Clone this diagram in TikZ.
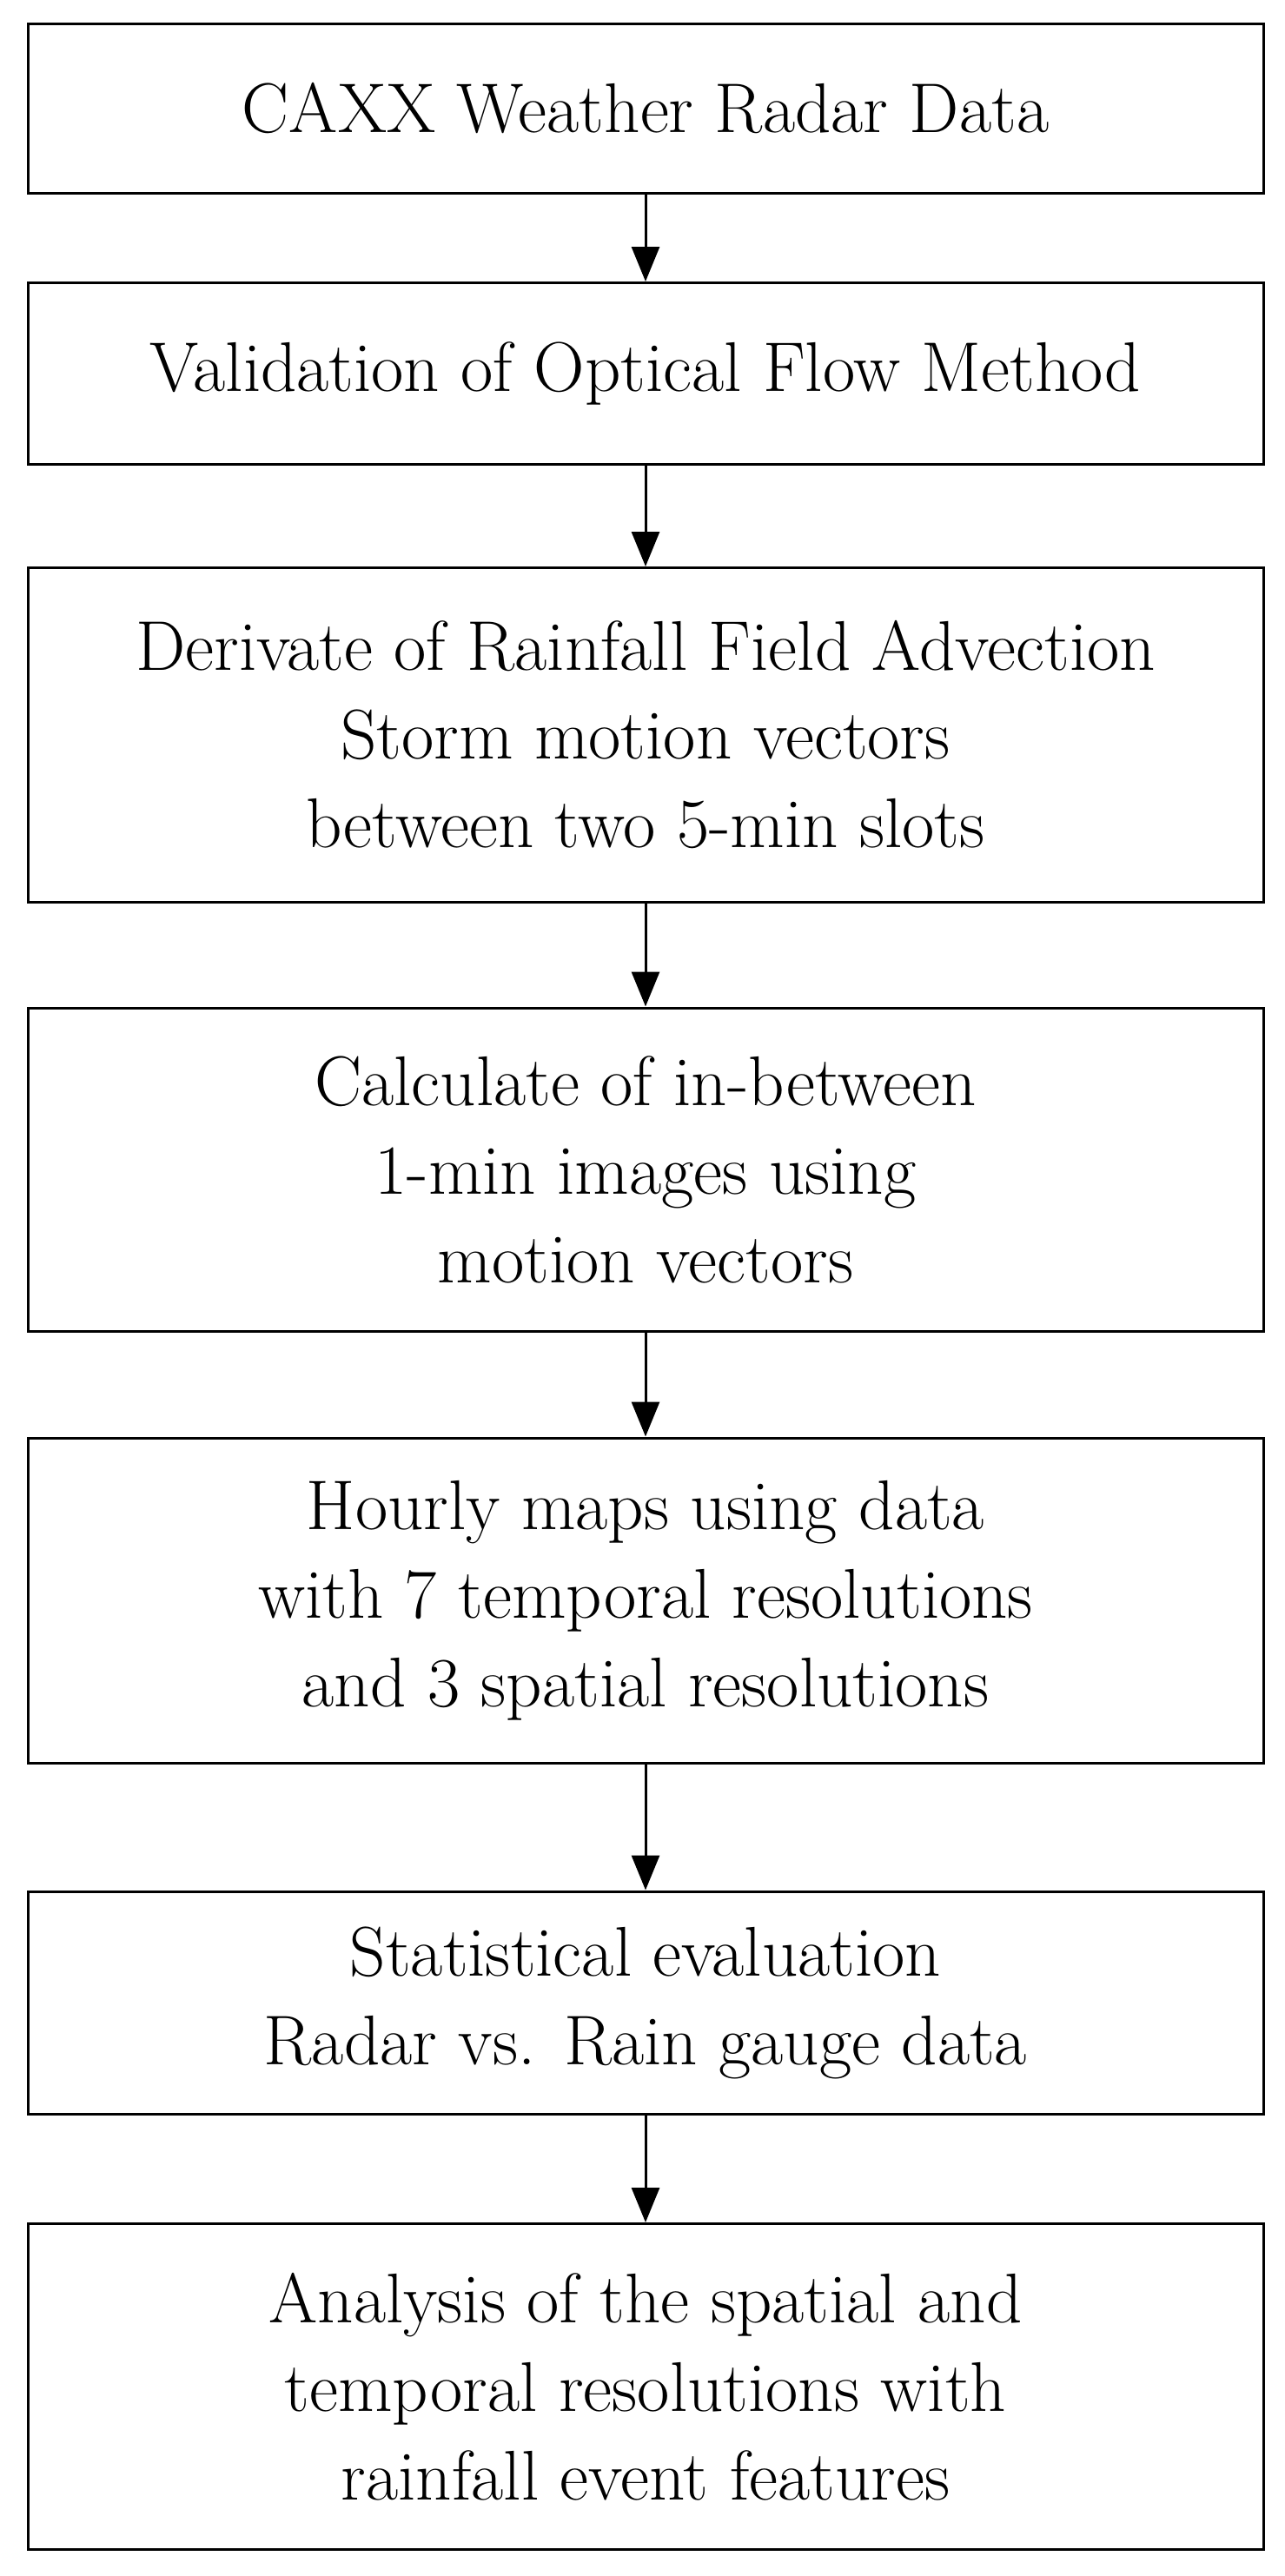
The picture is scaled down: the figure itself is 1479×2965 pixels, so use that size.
\documentclass[tikz,border=0pt]{standalone}
\usetikzlibrary{arrows.meta}
\begin{document}
\begin{tikzpicture}[x=1pt,y=-1pt,
  box/.style={draw,line width=3pt,minimum width=1422pt,align=center,inner sep=0pt,font=\fontsize{81}{102}\selectfont},
  arr/.style={-{Triangle[length=40pt,width=32pt]},line width=3pt}]
\useasboundingbox (0,0) rectangle (1479,2965);
\node[box,minimum height=194pt] (b1) at (743,125) {CAXX Weather Radar Data};
\node[box,minimum height=209pt] (b2) at (743,430) {Validation of Optical Flow Method};
\node[box,minimum height=385pt] (b3) at (743,846) {Derivate of Rainfall Field Advection\\Storm motion vectors\\between two 5-min slots};
\node[box,minimum height=372pt] (b4) at (743,1346) {Calculate of in-between\\1-min images using\\motion vectors};
\node[box,minimum height=374pt] (b5) at (743,1842) {Hourly maps using data\\with 7 temporal resolutions\\and 3 spatial resolutions};
\node[box,minimum height=256pt] (b6) at (743,2305) {Statistical evaluation\\Radar vs. Rain gauge data};
\node[box,minimum height=375pt] (b7) at (743,2747) {Analysis of the spatial and\\temporal resolutions with\\rainfall event features};
\foreach \a/\b in {b1/b2,b2/b3,b3/b4,b4/b5,b5/b6,b6/b7}
  \draw[arr] (\a) -- (\b);
\end{tikzpicture}
\end{document}
